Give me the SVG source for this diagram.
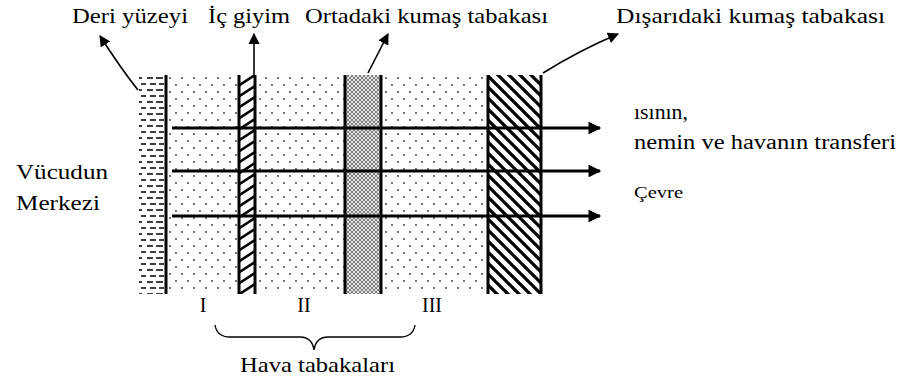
<svg xmlns="http://www.w3.org/2000/svg" width="907" height="383" viewBox="0 0 907 383">
<style>
text{font-family:"Liberation Serif","DejaVu Serif","Times New Roman",serif;fill:#000}
.lead{stroke:#000;stroke-width:1.6;fill:none}
.flow{stroke:#000;stroke-width:3.2;fill:none}
.wall{stroke:#000;stroke-width:3;fill:none}
</style>
<defs>
<marker id="ah" viewBox="0 0 10 10" refX="9" refY="5" markerWidth="7" markerHeight="7" markerUnits="strokeWidth" orient="auto"><path d="M0,0 L10,5 L0,10 z" fill="#000"/></marker>
<marker id="fh" viewBox="0 0 10 10" refX="9" refY="5" markerWidth="4.5" markerHeight="4" markerUnits="strokeWidth" orient="auto"><path d="M0,0 L10,5 L0,10 z" fill="#000"/></marker>
<pattern id="dots" width="12" height="14" patternUnits="userSpaceOnUse" x="166" y="75">
<circle cx="4" cy="3" r="0.9" fill="#333"/><circle cx="10" cy="10" r="0.9" fill="#333"/>
</pattern>
<pattern id="skin" width="26" height="12" patternUnits="userSpaceOnUse" x="139" y="75">
<path d="M0,3h3M8,3h6M17,3h7M2,9h5M11,9h6M20,9h5" stroke="#000" stroke-width="1.6"/>
</pattern>
<pattern id="hatchR" width="17" height="11" patternUnits="userSpaceOnUse" x="238" y="75">
<path d="M0,11 L17,0 M-17,11 L0,0 M0,22 L17,11 M0,0 L17,-11" stroke="#000" stroke-width="2.6"/>
</pattern>
<pattern id="hatchL" width="11" height="11" patternUnits="userSpaceOnUse" x="487" y="75">
<path d="M-2,-2 L13,13 M-13,-2 L2,13 M9,-2 L24,13" stroke="#000" stroke-width="3.2"/>
</pattern>
<pattern id="cross" width="4" height="4" patternUnits="userSpaceOnUse">
<rect width="4" height="4" fill="#e2e2e2"/>
<path d="M0,0 L4,4 M4,0 L0,4" stroke="#666" stroke-width="0.8"/>
</pattern>
</defs>

<g id="air-layers">
<rect x="166" y="75" width="321" height="219" fill="url(#dots)"/>
</g>
<g id="skin-layer">
<rect x="139" y="75" width="26" height="219" fill="url(#skin)"/>
<line class="wall" x1="166" y1="75" x2="166" y2="294"/>
</g>
<g id="inner-garment">
<rect x="238" y="75" width="17" height="219" fill="#fff"/>
<rect x="238" y="75" width="17" height="219" fill="url(#hatchR)"/>
<line class="wall" x1="239" y1="75" x2="239" y2="294"/>
<line class="wall" x1="255" y1="75" x2="255" y2="294"/>
</g>
<g id="middle-fabric">
<rect x="344" y="75" width="37" height="219" fill="url(#cross)"/>
<line class="wall" x1="345" y1="75" x2="345" y2="294"/>
<line class="wall" x1="381" y1="75" x2="381" y2="294"/>
</g>
<g id="outer-fabric">
<rect x="487" y="75" width="54" height="219" fill="#fff"/>
<rect x="487" y="75" width="54" height="219" fill="url(#hatchL)"/>
<line class="wall" x1="488" y1="75" x2="488" y2="294"/>
<line class="wall" x1="541" y1="75" x2="541" y2="294"/>
</g>

<g id="connectors">
<line class="flow" x1="172" y1="128" x2="600" y2="128" marker-end="url(#fh)"/>
<line class="flow" x1="172" y1="171" x2="600" y2="171" marker-end="url(#fh)"/>
<line class="flow" x1="172" y1="216" x2="600" y2="216" marker-end="url(#fh)"/>
<path class="lead" d="M138,90 Q122,70 100,36" marker-end="url(#ah)"/>
<path class="lead" d="M254,75 L254,34" marker-end="url(#ah)"/>
<path class="lead" d="M368,73 L388,34" marker-end="url(#ah)"/>
<path class="lead" d="M543,73 Q580,50 618,34" marker-end="url(#ah)"/>
<path d="M215,325 Q217,337 230,337 L300,337 Q312,337 314,350 Q316,337 328,337 L400,337 Q413,337 415,325" stroke="#000" stroke-width="1.4" fill="none"/>
</g>

<g id="labels" font-family="Liberation Serif, DejaVu Serif, serif">
<text x="72" y="23" font-size="22" textLength="116" lengthAdjust="spacingAndGlyphs">Deri yüzeyi</text>
<text x="208" y="23" font-size="22" textLength="82" lengthAdjust="spacingAndGlyphs">İç giyim</text>
<text x="305" y="23" font-size="22" textLength="243" lengthAdjust="spacingAndGlyphs">Ortadaki kumaş tabakası</text>
<text x="616" y="23" font-size="22" textLength="269" lengthAdjust="spacingAndGlyphs">Dışarıdaki kumaş tabakası</text>
<text x="16" y="179" font-size="22" textLength="92" lengthAdjust="spacingAndGlyphs">Vücudun</text>
<text x="16" y="210" font-size="22" textLength="84" lengthAdjust="spacingAndGlyphs">Merkezi</text>
<text x="634" y="119" font-size="20" textLength="54" lengthAdjust="spacingAndGlyphs">ısının,</text>
<text x="634" y="149" font-size="20" textLength="262" lengthAdjust="spacingAndGlyphs">nemin ve havanın transferi</text>
<text x="634" y="198" font-size="16" textLength="49" lengthAdjust="spacingAndGlyphs">Çevre</text>
<text x="203" y="312" font-size="20" text-anchor="middle">I</text>
<text x="304" y="312" font-size="20" text-anchor="middle">II</text>
<text x="432" y="312" font-size="20" text-anchor="middle">III</text>
<text x="240" y="372" font-size="22" textLength="155" lengthAdjust="spacingAndGlyphs">Hava tabakaları</text>
</g>
</svg>
